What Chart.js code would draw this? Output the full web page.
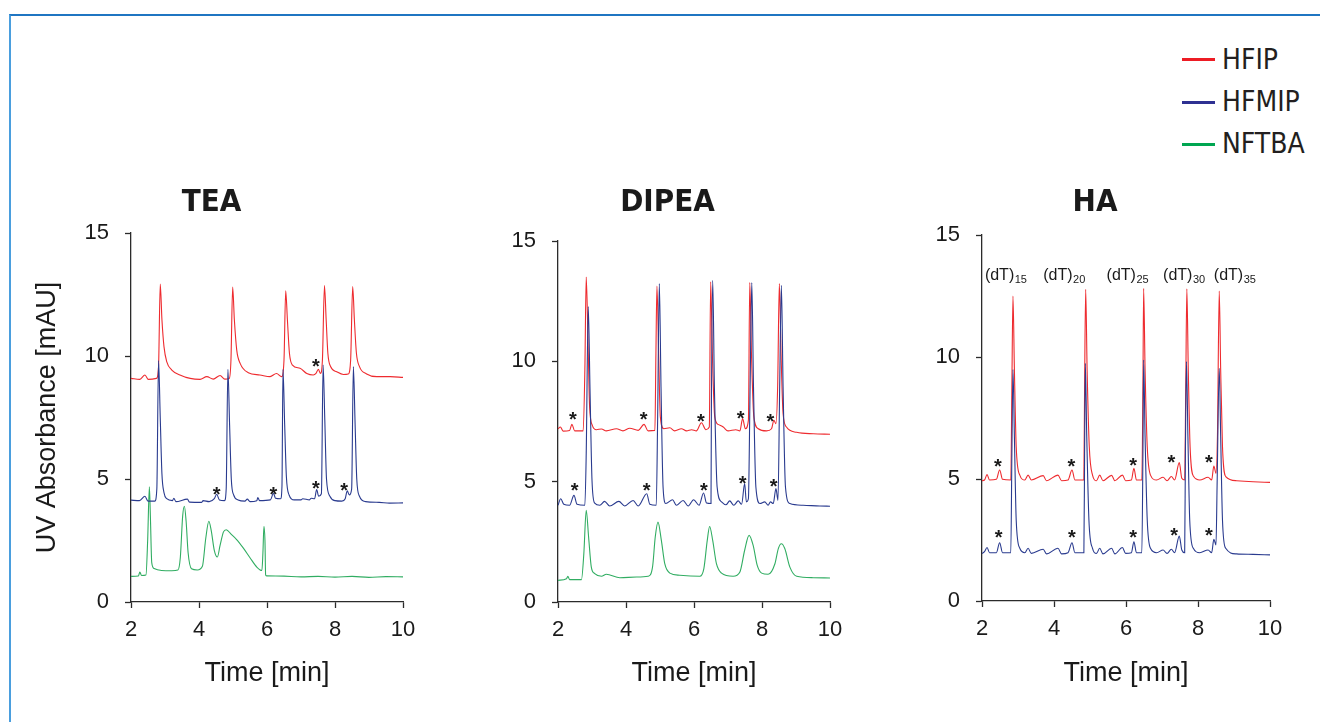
<!DOCTYPE html>
<html>
<head>
<meta charset="utf-8">
<title>Ion-pair reagent chromatograms</title>
<script src="https://cdn.jsdelivr.net/npm/chart.js@4.4.1/dist/chart.umd.min.js"></script>
<style>
  body { margin: 0; width: 1320px; height: 722px; overflow: hidden; position: relative; background: #fff;
         font-family: "Liberation Sans", Arial, sans-serif; }
  .frame { position: absolute; left: 9px; top: 14px; width: 1400px; height: 800px;
           border-left: 2px solid #4a9ede; border-top: 2px solid #1f75c2; }
  canvas { position: absolute; }
  .swatch { position: absolute; left: 1182px; width: 33px; height: 3px; }
  .lg { position: absolute; left: 1222px; font: 28px/28px "Liberation Sans Narrow", "DejaVu Sans Condensed", sans-serif; color: #231f20; }
</style>
</head>
<body>
<div class="frame"></div>

<canvas id="tea" width="480" height="550" style="left:20px; top:160px"></canvas>
<canvas id="dipea" width="372" height="550" style="left:505px; top:160px"></canvas>
<canvas id="ha" width="392" height="550" style="left:920px; top:160px"></canvas>

<div class="swatch" style="top:58px; background:#ed1c24"></div>
<div class="lg" style="top:46px">HFIP</div>
<div class="swatch" style="top:101px; background:#2e3192"></div>
<div class="lg" style="top:88px">HFMIP</div>
<div class="swatch" style="top:143px; background:#00a651"></div>
<div class="lg" style="top:130px">NFTBA</div>

<script>
// ================= DATA (time [min], absorbance [mAU]) =================
const teaHfip = [[2.00,9.09],[2.26,9.05],[2.41,9.23],[2.51,9.05],[2.75,9.09],[2.81,9.57],[2.86,12.92],[2.91,11.47],[2.97,10.38],[3.05,9.77],[3.20,9.43],[3.44,9.23],[3.74,9.09],[4.03,9.05],[4.23,9.16],[4.42,9.06],[4.62,9.21],[4.76,9.06],[4.89,9.09],[4.94,9.84],[4.99,12.80],[5.04,11.47],[5.11,10.24],[5.21,9.70],[5.45,9.32],[5.79,9.23],[6.09,9.16],[6.28,9.29],[6.43,9.16],[6.50,9.84],[6.55,12.65],[6.60,11.47],[6.66,10.11],[6.75,9.63],[6.97,9.50],[7.17,9.29],[7.36,9.23],[7.44,9.29],[7.51,9.46],[7.57,9.29],[7.63,9.84],[7.69,12.86],[7.74,11.47],[7.79,10.11],[7.87,9.57],[8.05,9.36],[8.25,9.25],[8.39,9.27],[8.46,9.84],[8.52,12.82],[8.57,11.47],[8.63,10.11],[8.72,9.57],[8.93,9.27],[9.23,9.16],[9.62,9.16],[10.00,9.13]];
const teaHfmip = [[2.00,4.14],[2.25,4.12],[2.41,4.30],[2.50,4.10],[2.70,4.10],[2.76,4.60],[2.81,9.81],[2.86,7.50],[2.91,5.20],[2.97,4.45],[3.05,4.20],[3.22,4.12],[3.26,4.22],[3.32,4.08],[3.66,4.18],[3.72,4.06],[4.08,4.05],[4.12,4.12],[4.30,4.08],[4.45,4.20],[4.52,4.38],[4.60,4.15],[4.75,4.12],[4.80,4.60],[4.85,9.46],[4.90,7.20],[4.95,5.00],[5.02,4.35],[5.15,4.15],[5.35,4.10],[5.42,4.18],[5.50,4.08],[5.70,4.12],[5.73,4.25],[5.78,4.12],[6.10,4.15],[6.19,4.42],[6.25,4.22],[6.40,4.20],[6.44,4.70],[6.47,9.46],[6.52,7.20],[6.57,5.10],[6.65,4.35],[6.80,4.15],[7.00,4.15],[7.05,4.20],[7.25,4.15],[7.30,4.22],[7.40,4.20],[7.46,4.57],[7.52,4.30],[7.60,4.40],[7.65,9.63],[7.70,7.40],[7.75,5.00],[7.85,4.30],[8.00,4.12],[8.20,4.10],[8.30,4.20],[8.36,4.52],[8.42,4.35],[8.49,4.60],[8.54,9.57],[8.59,7.30],[8.64,5.00],[8.72,4.30],[8.90,4.08],[9.30,4.05],[9.60,4.02],[10.00,4.03]];
const teaNftba = [[2.00,1.04],[2.22,1.06],[2.26,1.22],[2.31,1.08],[2.44,1.10],[2.49,2.50],[2.54,4.68],[2.57,3.50],[2.61,1.60],[2.68,1.36],[2.90,1.28],[3.20,1.27],[3.38,1.30],[3.45,1.80],[3.52,3.50],[3.57,3.89],[3.62,3.30],[3.68,2.00],[3.78,1.35],[3.95,1.30],[4.10,1.45],[4.20,2.60],[4.29,3.28],[4.36,2.90],[4.45,2.10],[4.54,1.83],[4.62,2.30],[4.72,2.85],[4.80,2.94],[4.95,2.75],[5.10,2.55],[5.30,2.20],[5.50,1.80],[5.70,1.42],[5.85,1.28],[5.88,2.00],[5.91,3.08],[5.94,2.50],[5.96,1.10],[6.00,1.06],[6.50,1.05],[7.00,1.02],[7.50,1.04],[8.00,1.01],[8.50,1.04],[9.00,1.00],[9.50,1.03],[10.00,1.02]];
const teaStars = [[7.44,9.77],[4.52,4.57],[6.19,4.57],[7.44,4.79],[8.27,4.72]];

const dipeaHfip = [[2.00,7.20],[2.07,7.27],[2.15,7.10],[2.34,7.13],[2.41,7.38],[2.49,7.11],[2.74,7.11],[2.79,9.63],[2.83,13.50],[2.88,11.01],[2.93,8.10],[3.01,7.34],[3.13,7.16],[3.28,7.19],[3.42,7.11],[3.72,7.20],[3.91,7.11],[4.11,7.22],[4.36,7.13],[4.53,7.38],[4.65,7.11],[4.85,7.13],[4.88,10.32],[4.91,13.13],[4.96,10.32],[5.01,7.69],[5.11,7.20],[5.29,7.24],[5.43,7.11],[5.63,7.20],[5.78,7.11],[5.93,7.16],[6.07,7.11],[6.22,7.45],[6.35,7.16],[6.45,7.27],[6.49,13.30],[6.54,10.32],[6.61,7.69],[6.71,7.38],[6.86,7.27],[7.00,7.11],[7.23,7.16],[7.35,7.11],[7.43,7.62],[7.51,7.20],[7.60,7.55],[7.64,13.27],[7.69,10.32],[7.76,7.69],[7.89,7.20],[8.13,7.11],[8.28,7.20],[8.35,7.55],[8.41,7.41],[8.46,8.93],[8.51,13.23],[8.56,10.32],[8.62,7.83],[8.72,7.27],[9.02,7.05],[9.51,6.99],[10.00,6.97]];
const dipeaHfmip = [[2.00,4.02],[2.08,4.29],[2.17,4.06],[2.34,4.02],[2.47,4.43],[2.56,4.06],[2.79,4.02],[2.83,6.16],[2.89,12.28],[2.94,8.93],[3.00,5.06],[3.08,4.11],[3.23,4.02],[3.37,4.18],[3.52,3.99],[3.79,4.18],[3.96,3.99],[4.21,4.22],[4.36,3.99],[4.61,4.50],[4.70,4.06],[4.89,4.02],[4.93,7.55],[4.98,13.23],[5.03,8.93],[5.09,4.78],[5.17,4.09],[5.37,4.25],[5.48,4.02],[5.68,4.22],[5.83,3.99],[5.99,4.25],[6.15,4.02],[6.28,4.53],[6.37,4.11],[6.50,4.09],[6.51,7.55],[6.55,13.37],[6.60,8.93],[6.68,4.78],[6.81,4.16],[6.94,4.04],[7.05,4.20],[7.17,4.02],[7.30,4.20],[7.40,4.06],[7.49,4.92],[7.54,4.16],[7.60,4.29],[7.65,8.93],[7.70,13.27],[7.75,8.93],[7.82,4.78],[7.94,4.09],[8.08,4.16],[8.18,4.02],[8.25,4.16],[8.33,4.09],[8.41,4.71],[8.47,4.22],[8.52,8.93],[8.57,13.16],[8.62,8.93],[8.69,4.78],[8.82,4.09],[9.21,4.02],[9.70,3.99],[10.00,3.98]];
const dipeaNftba = [[2.00,0.90],[2.25,0.97],[2.29,1.07],[2.34,0.93],[2.69,0.93],[2.76,2.01],[2.83,3.81],[2.90,2.70],[2.98,1.45],[3.08,1.18],[3.28,1.07],[3.42,1.15],[3.82,1.01],[4.31,1.04],[4.65,1.07],[4.78,1.45],[4.86,2.70],[4.94,3.32],[5.04,2.56],[5.14,1.59],[5.29,1.20],[5.58,1.11],[6.17,1.07],[6.29,1.39],[6.39,2.56],[6.46,3.14],[6.55,2.56],[6.66,1.59],[6.81,1.20],[7.15,1.07],[7.35,1.25],[7.49,2.15],[7.62,2.77],[7.74,2.35],[7.86,1.52],[7.99,1.20],[8.18,1.15],[8.38,1.59],[8.48,2.22],[8.57,2.42],[8.67,2.22],[8.82,1.45],[9.02,1.07],[9.51,1.01],[10.00,1.00]];
const dipeaStars = [[2.44,7.76],[4.52,7.76],[6.20,7.69],[7.37,7.83],[8.25,7.69],[2.49,4.82],[4.61,4.82],[6.29,4.82],[7.43,5.12],[8.34,4.99]];

const haHfip = [[2.00,4.93],[2.07,4.96],[2.14,5.18],[2.21,4.96],[2.40,4.99],[2.49,5.37],[2.57,4.99],[2.80,4.96],[2.83,8.78],[2.86,12.50],[2.90,9.47],[2.95,6.33],[3.05,5.16],[3.19,4.96],[3.28,5.16],[3.37,4.96],[3.70,5.14],[3.79,4.93],[4.11,5.16],[4.21,4.93],[4.39,4.96],[4.50,5.37],[4.58,4.96],[4.83,4.96],[4.85,8.78],[4.88,12.77],[4.92,9.47],[4.98,6.33],[5.07,5.16],[5.18,4.93],[5.27,5.16],[5.36,4.93],[5.60,5.15],[5.69,4.93],[5.90,5.16],[5.99,4.93],[6.15,4.96],[6.22,5.44],[6.29,4.96],[6.44,4.96],[6.47,8.78],[6.49,12.81],[6.53,9.47],[6.59,6.33],[6.68,5.16],[6.85,4.96],[7.03,5.07],[7.14,4.93],[7.26,5.10],[7.35,4.96],[7.48,5.67],[7.55,5.03],[7.63,4.96],[7.66,8.78],[7.69,12.79],[7.73,9.47],[7.78,6.33],[7.88,5.10],[8.05,4.96],[8.28,5.07],[8.38,4.96],[8.44,5.53],[8.50,5.23],[8.54,6.73],[8.59,12.70],[8.63,9.47],[8.68,6.33],[8.77,5.10],[9.07,4.93],[9.53,4.89],[10.00,4.86]];
const haHfmip = [[2.00,1.95],[2.07,2.02],[2.14,2.19],[2.21,1.98],[2.40,1.98],[2.49,2.39],[2.57,1.98],[2.80,1.98],[2.83,6.05],[2.86,9.49],[2.90,6.73],[2.95,3.32],[3.05,2.16],[3.19,1.98],[3.28,2.16],[3.37,1.95],[3.70,2.12],[3.79,1.93],[4.11,2.16],[4.21,1.93],[4.39,1.98],[4.50,2.39],[4.58,1.98],[4.83,1.98],[4.85,6.05],[4.87,9.74],[4.91,6.73],[4.97,3.32],[5.07,2.16],[5.18,1.95],[5.27,2.16],[5.36,1.93],[5.60,2.16],[5.69,1.93],[5.90,2.19],[5.99,1.95],[6.15,1.98],[6.22,2.43],[6.29,1.98],[6.44,1.98],[6.47,6.05],[6.49,9.88],[6.53,6.73],[6.59,3.32],[6.68,2.16],[6.85,1.98],[7.03,2.09],[7.14,1.95],[7.26,2.12],[7.35,1.98],[7.48,2.66],[7.55,2.09],[7.63,1.98],[7.65,6.05],[7.68,9.81],[7.72,6.73],[7.77,3.32],[7.87,2.16],[8.05,1.98],[8.28,2.09],[8.38,1.98],[8.44,2.53],[8.50,2.30],[8.53,4.69],[8.59,9.54],[8.63,6.73],[8.68,3.32],[8.77,2.16],[9.07,1.93],[9.53,1.91],[10.00,1.89]];
const haStars = [[2.44,5.68],[4.48,5.68],[6.20,5.75],[7.26,5.85],[8.30,5.85],[2.46,2.77],[4.50,2.80],[6.20,2.77],[7.34,2.87],[8.30,2.87]];
const haPeakLengths = ["15", "20", "25", "30", "35"];
const haPeakT = [2.08, 3.70, 5.46, 7.03, 8.44];
const haPeakV = [13.17, 13.17, 13.17, 13.17, 13.17];

const xTicksMin = 2, xTicksMax = 10, xStep = 2;
const yTicksMin = 0, yTicksMax = 15, yStep = 5;

// ================= STYLE =================
const RED = "#ee2b2f";
const BLUE = "#2a3b8f";
const GREEN = "#31ad62";
const INK = "#1a1a1a";
const AXIS = "#2b2b2b";
const SANS = '"Liberation Sans", Arial, sans-serif';
const NARROW = '"Liberation Sans Narrow", "DejaVu Sans Condensed", sans-serif';

// ================= STARS + PEAK LABELS =================
const marksPlugin = {
  id: "marks",
  afterDatasetsDraw(chart, args, opts) {
    const { ctx } = chart;
    const x = chart.scales.x;
    const y = chart.scales.y;
    ctx.save();
    ctx.fillStyle = INK;
    ctx.textAlign = "center";
    ctx.textBaseline = "alphabetic";
    ctx.font = "bold 20px " + SANS;
    (opts.stars || []).forEach(([t, v]) => {
      ctx.fillText("*", x.getPixelForValue(t), y.getPixelForValue(v) + 11);
    });

    const names = opts.peakNames || [];
    ctx.textAlign = "left";
    names.forEach((n, i) => {
      const px = x.getPixelForValue(opts.peakT[i]);
      const py = y.getPixelForValue(opts.peakV[i]);
      ctx.font = "16px " + SANS;
      ctx.fillText("(dT)", px, py);
      const w = ctx.measureText("(dT)").width;
      ctx.font = "11px " + SANS;
      ctx.fillText(n, px + w + 0.5, py + 3);
    });
    ctx.restore();
  }
};

function axis(extra) {
  return Object.assign({
    type: "linear",
    grid: { drawOnChartArea: false, drawTicks: true, tickLength: 6, tickColor: AXIS, tickWidth: 1.3 },
    border: { display: true, color: AXIS, width: 1.3 }
  }, extra);
}

function makePanel(id, p) {
  const datasets = p.traces.map(tr => ({
    data: tr.points.map(pt => ({ x: pt[0], y: pt[1] })),
    borderColor: tr.color,
    borderWidth: 1.1,
    pointRadius: 0,
    cubicInterpolationMode: "monotone",
    fill: false
  }));

  return new Chart(document.getElementById(id), {
    type: "line",
    data: { datasets: datasets },
    plugins: [marksPlugin],
    options: {
      responsive: false,
      animation: false,
      events: [],
      layout: { padding: { left: 0, right: p.padRight, top: 0, bottom: 0 } },
      plugins: {
        legend: { display: false },
        tooltip: { enabled: false },
        title: {
          display: true,
          text: p.title,
          color: INK,
          font: { family: NARROW, size: 31, weight: "bold", lineHeight: 1.2 },
          padding: { top: 24, bottom: p.titleGap }
        },
        marks: p.marks
      },
      scales: {
        x: axis({
          min: xTicksMin, max: xTicksMax,
          afterFit: s => { s.height = p.xHeight; },
          ticks: { stepSize: xStep, color: INK, padding: 9, font: { family: SANS, size: 22 } },
          title: { display: true, text: "Time [min]", color: INK, font: { family: SANS, size: 27 }, padding: { top: 0, bottom: 20 } }
        }),
        y: axis({
          min: yTicksMin, max: yTicksMax,
          afterFit: s => { s.width = p.yWidth; },
          ticks: { stepSize: yStep, color: INK, padding: 16, font: { family: SANS, size: 22 } },
          title: { display: p.yTitle, text: "UV Absorbance [mAU]", color: INK, font: { family: SANS, size: 27 }, padding: { top: 11, bottom: 0 } }
        })
      }
    }
  });
}

// blue first so it is drawn on top of red
makePanel("tea", {
  title: "TEA", padRight: 97, yWidth: 111, xHeight: 108, titleGap: 11.8, yTitle: true,
  traces: [{ points: teaHfmip, color: BLUE }, { points: teaHfip, color: RED }, { points: teaNftba, color: GREEN }],
  marks: { stars: teaStars }
});

makePanel("dipea", {
  title: "DIPEA", padRight: 47, yWidth: 53, xHeight: 108, titleGap: 19.8, yTitle: false,
  traces: [{ points: dipeaHfmip, color: BLUE }, { points: dipeaHfip, color: RED }, { points: dipeaNftba, color: GREEN }],
  marks: { stars: dipeaStars }
});

makePanel("ha", {
  title: "HA", padRight: 42, yWidth: 62, xHeight: 109, titleGap: 13.8, yTitle: false,
  traces: [{ points: haHfmip, color: BLUE }, { points: haHfip, color: RED }],
  marks: { stars: haStars, peakNames: haPeakLengths, peakT: haPeakT, peakV: haPeakV }
});
</script>
</body>
</html>
